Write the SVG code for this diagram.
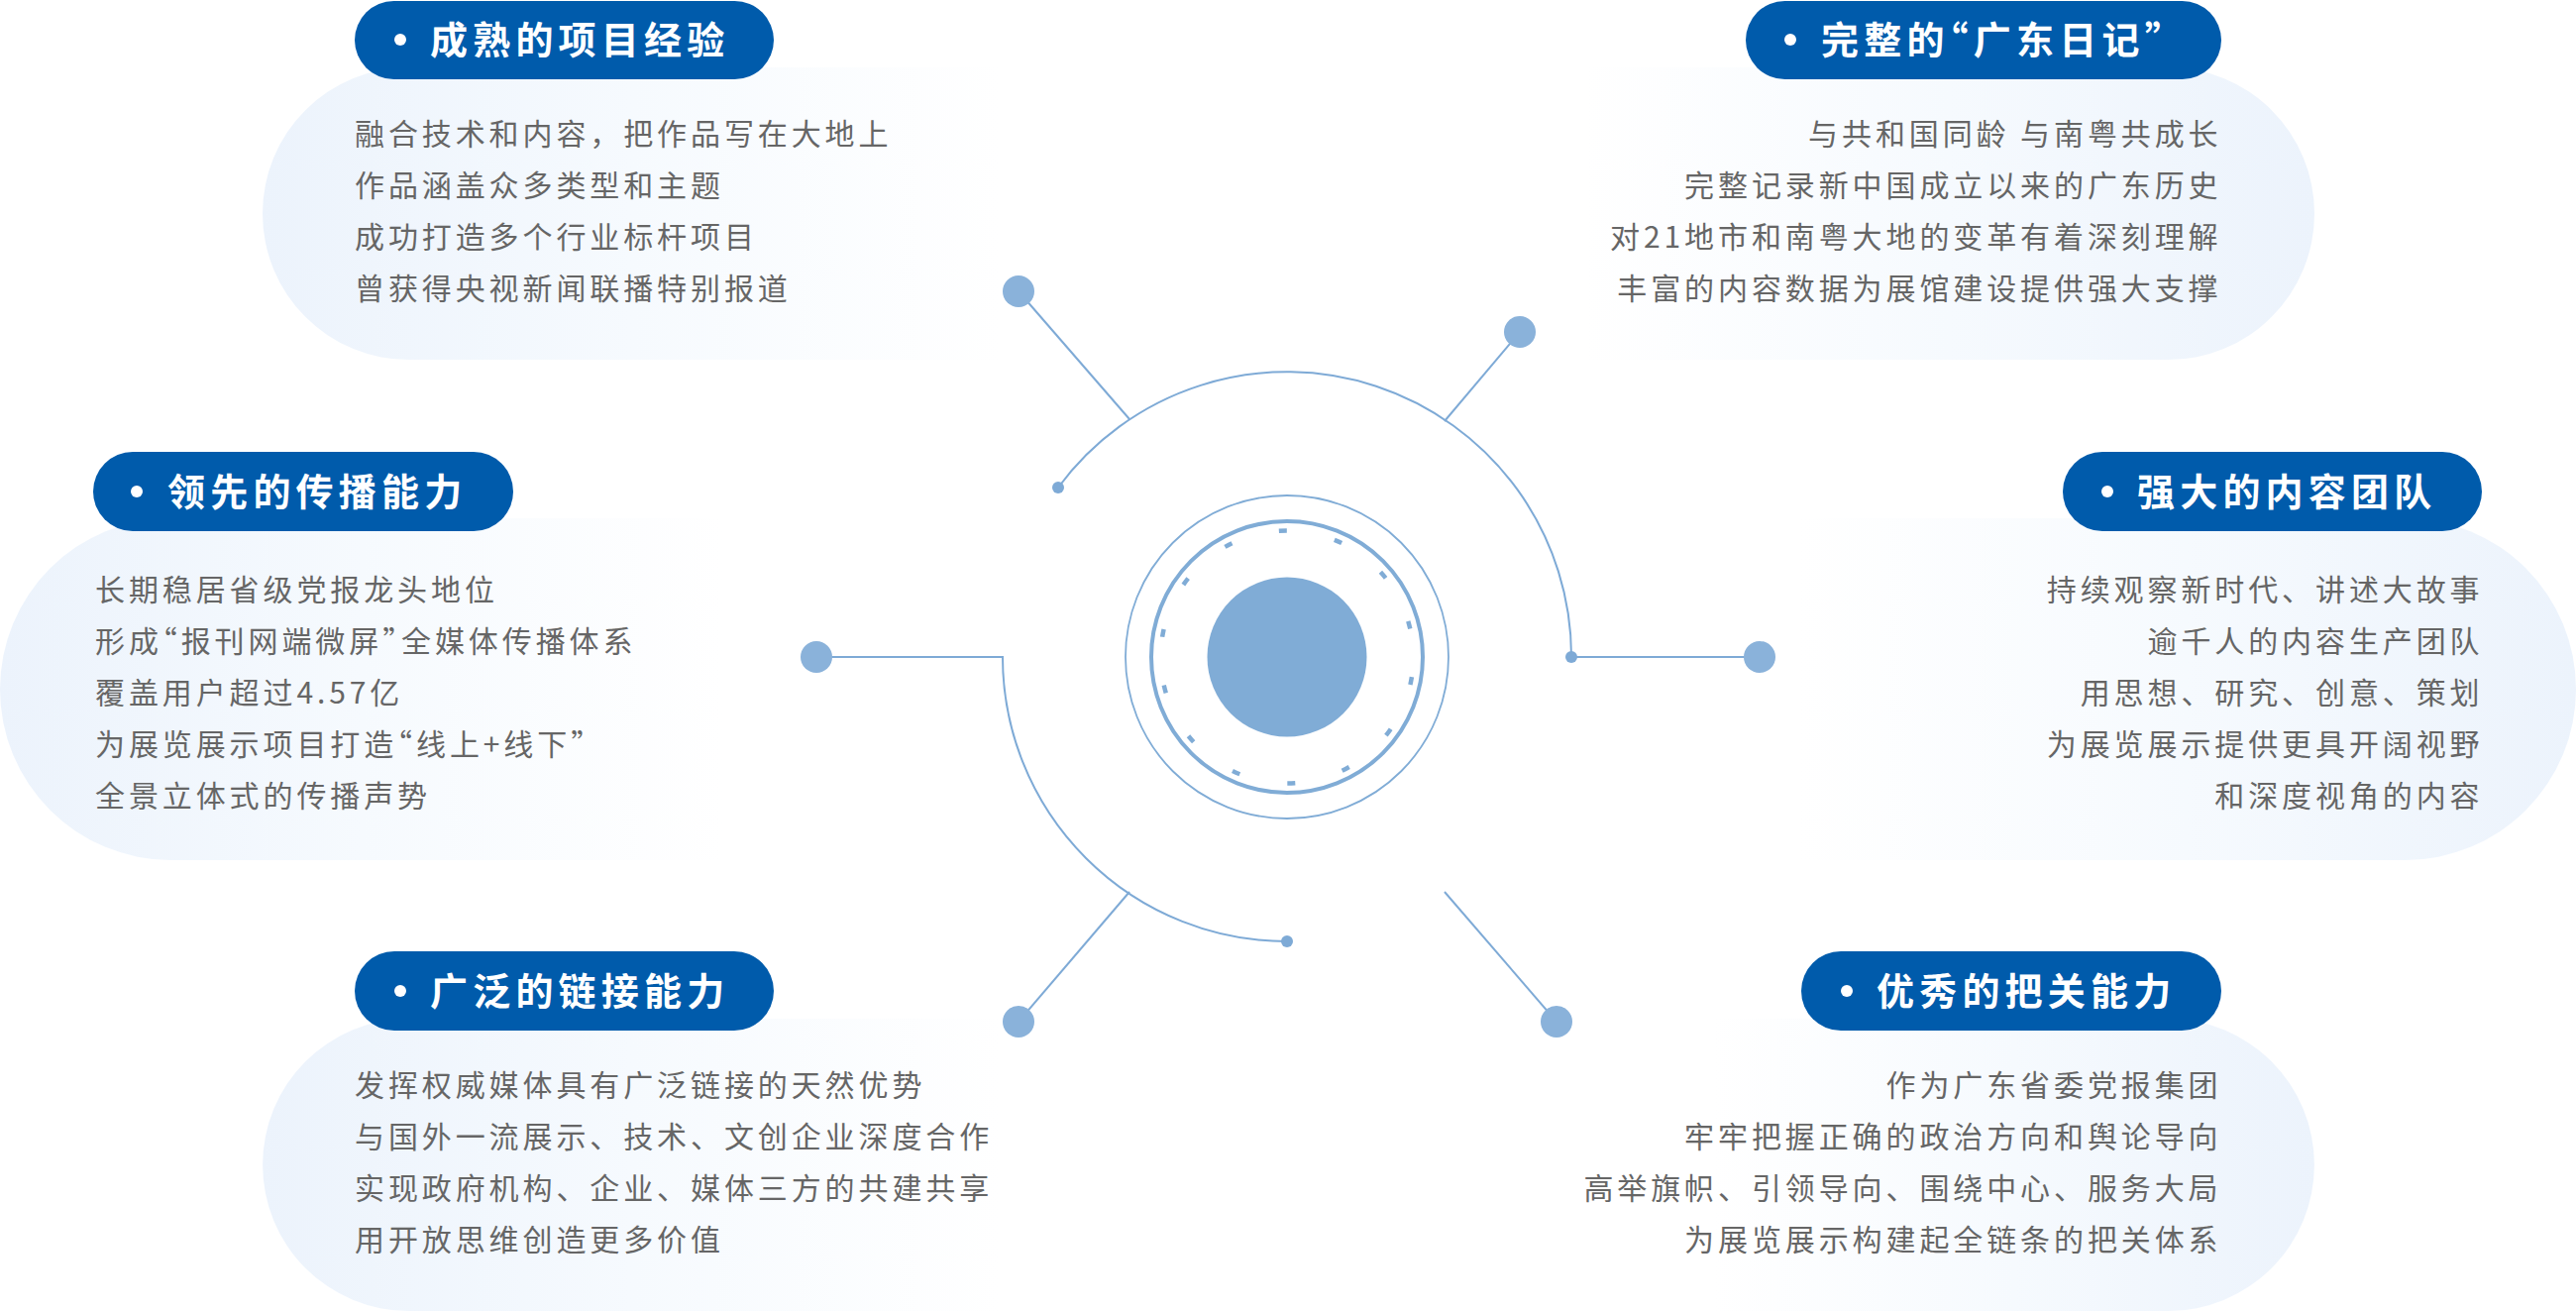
<svg xmlns="http://www.w3.org/2000/svg" width="2600" height="1324" viewBox="0 0 2600 1324">
<style>
.title{font-family:"Noto Sans CJK SC","Noto Sans",sans-serif;font-size:38px;font-weight:700;fill:#ffffff;letter-spacing:5.2px}
.body{font-family:"Noto Sans CJK SC","Noto Sans",sans-serif;font-size:30px;fill:#666666;letter-spacing:3.9px}
.q{font-feature-settings:"halt" 1}
.end{text-anchor:end}
.pill{fill:#005bab}
.bullet{fill:#ffffff}
.ln{fill:none;stroke:#7eaad6;stroke-width:2}
.big{fill:#8ab2da}
.small{fill:#7eaad6}
</style>
<defs>
<linearGradient id="gL" x1="0" y1="0" x2="1" y2="0">
<stop offset="0" stop-color="#ecf3fc"/>
<stop offset="0.5" stop-color="#f6fafe"/>
<stop offset="1" stop-color="#ffffff"/>
</linearGradient>
<linearGradient id="gR" x1="1" y1="0" x2="0" y2="0">
<stop offset="0" stop-color="#ecf3fc"/>
<stop offset="0.5" stop-color="#f6fafe"/>
<stop offset="1" stop-color="#ffffff"/>
</linearGradient>
</defs>
<rect width="2600" height="1324" fill="#ffffff"/>

<g id="center">
<circle cx="1299" cy="663" r="163" fill="none" stroke="#80acd6" stroke-width="1.8"/>
<circle cx="1299" cy="663" r="137" fill="none" stroke="#80acd6" stroke-width="4"/>
<circle cx="1299" cy="663" r="127.5" fill="none" stroke="#80acd6" stroke-width="4.5" stroke-dasharray="8 49.22" stroke-dashoffset="-20.2"/>
<circle cx="1299" cy="663" r="80.5" fill="#80acd6"/>
</g>

<g id="connectors">
<path class="ln" d="M1068,492 A287,287 0 0 1 1586,663"/>
<path class="ln" d="M1586,663 H1776"/>
<path class="ln" d="M824,663 H1012 A287,287 0 0 0 1299,950"/>
<path class="ln" d="M1028,294 L1140,423"/>
<path class="ln" d="M1534,335 L1458,425"/>
<path class="ln" d="M1028,1031 L1140,900"/>
<path class="ln" d="M1458,900 L1571,1031"/>
<circle class="small" cx="1068" cy="492" r="6"/>
<circle class="small" cx="1586" cy="663" r="6"/>
<circle class="small" cx="1299" cy="950" r="6"/>
<circle class="big" cx="1028" cy="294" r="16"/>
<circle class="big" cx="1534" cy="335" r="16"/>
<circle class="big" cx="824" cy="663" r="16"/>
<circle class="big" cx="1776" cy="663" r="16"/>
<circle class="big" cx="1028" cy="1031" r="16"/>
<circle class="big" cx="1571" cy="1031" r="16"/>
</g>

<g id="node-experience">
<path fill="url(#gL)" d="M412.5,68 H1010 V363 H412.5 A147.5,147.5 0 0 1 412.5,68 Z"/>
<rect class="pill" x="358" y="1" width="423" height="79" rx="39.5"/>
<circle class="bullet" cx="404" cy="40" r="6"/>
<text class="title" x="434" y="54">成熟的项目经验</text>
<text class="body" x="358" y="146">融合技术和内容，把作品写在大地上</text>
<text class="body" x="358" y="198">作品涵盖众多类型和主题</text>
<text class="body" x="358" y="250">成功打造多个行业标杆项目</text>
<text class="body" x="358" y="302">曾获得央视新闻联播特别报道</text>
</g>

<g id="node-diary">
<path fill="url(#gR)" d="M1600,68 H2188.5 A147.5,147.5 0 0 1 2188.5,363 H1600 Z"/>
<rect class="pill" x="1762" y="1" width="480" height="79" rx="39.5"/>
<circle class="bullet" cx="1807" cy="40" r="6"/>
<text class="title" x="1838" y="54">完整的<tspan class="q">“</tspan>广东日记<tspan class="q">”</tspan></text>
<text class="body end" x="2242.5" y="146">与共和国同龄 与南粤共成长</text>
<text class="body end" x="2242.5" y="198">完整记录新中国成立以来的广东历史</text>
<text class="body end" x="2242.5" y="250">对21地市和南粤大地的变革有着深刻理解</text>
<text class="body end" x="2242.5" y="302">丰富的内容数据为展馆建设提供强大支撑</text>
</g>

<g id="node-spread">
<path fill="url(#gL)" d="M172.5,523 H730 V868 H172.5 A172.5,172.5 0 0 1 172.5,523 Z"/>
<rect class="pill" x="94" y="456" width="424" height="80" rx="40"/>
<circle class="bullet" cx="138" cy="496" r="6"/>
<text class="title" x="169" y="510">领先的传播能力</text>
<text class="body" x="96" y="606">长期稳居省级党报龙头地位</text>
<text class="body" x="96" y="658">形成<tspan class="q">“</tspan>报刊网端微屏<tspan class="q">”</tspan>全媒体传播体系</text>
<text class="body" x="96" y="710">覆盖用户超过4.57亿</text>
<text class="body" x="96" y="762">为展览展示项目打造<tspan class="q">“</tspan>线上+线下<tspan class="q">”</tspan></text>
<text class="body" x="96" y="814">全景立体式的传播声势</text>
</g>

<g id="node-team">
<path fill="url(#gR)" d="M1815,523 H2427.5 A172.5,172.5 0 0 1 2427.5,868 H1815 Z"/>
<rect class="pill" x="2082" y="456" width="423" height="80" rx="40"/>
<circle class="bullet" cx="2127" cy="496" r="6"/>
<text class="title" x="2157" y="510">强大的内容团队</text>
<text class="body end" x="2506.5" y="606">持续观察新时代、讲述大故事</text>
<text class="body end" x="2506.5" y="658">逾千人的内容生产团队</text>
<text class="body end" x="2506.5" y="710">用思想、研究、创意、策划</text>
<text class="body end" x="2506.5" y="762">为展览展示提供更具开阔视野</text>
<text class="body end" x="2506.5" y="814">和深度视角的内容</text>
</g>

<g id="node-link">
<path fill="url(#gL)" d="M412.5,1028 H1010 V1323 H412.5 A147.5,147.5 0 0 1 412.5,1028 Z"/>
<rect class="pill" x="358" y="960" width="423" height="80" rx="40"/>
<circle class="bullet" cx="404" cy="1000" r="6"/>
<text class="title" x="434" y="1014">广泛的链接能力</text>
<text class="body" x="358" y="1106">发挥权威媒体具有广泛链接的天然优势</text>
<text class="body" x="358" y="1158">与国外一流展示、技术、文创企业深度合作</text>
<text class="body" x="358" y="1210">实现政府机构、企业、媒体三方的共建共享</text>
<text class="body" x="358" y="1262">用开放思维创造更多价值</text>
</g>

<g id="node-gatekeeping">
<path fill="url(#gR)" d="M1730,1028 H2188.5 A147.5,147.5 0 0 1 2188.5,1323 H1730 Z"/>
<rect class="pill" x="1818" y="960" width="424" height="80" rx="40"/>
<circle class="bullet" cx="1864" cy="1000" r="6"/>
<text class="title" x="1894" y="1014">优秀的把关能力</text>
<text class="body end" x="2242.5" y="1106">作为广东省委党报集团</text>
<text class="body end" x="2242.5" y="1158">牢牢把握正确的政治方向和舆论导向</text>
<text class="body end" x="2242.5" y="1210">高举旗帜、引领导向、围绕中心、服务大局</text>
<text class="body end" x="2242.5" y="1262">为展览展示构建起全链条的把关体系</text>
</g>
</svg>
